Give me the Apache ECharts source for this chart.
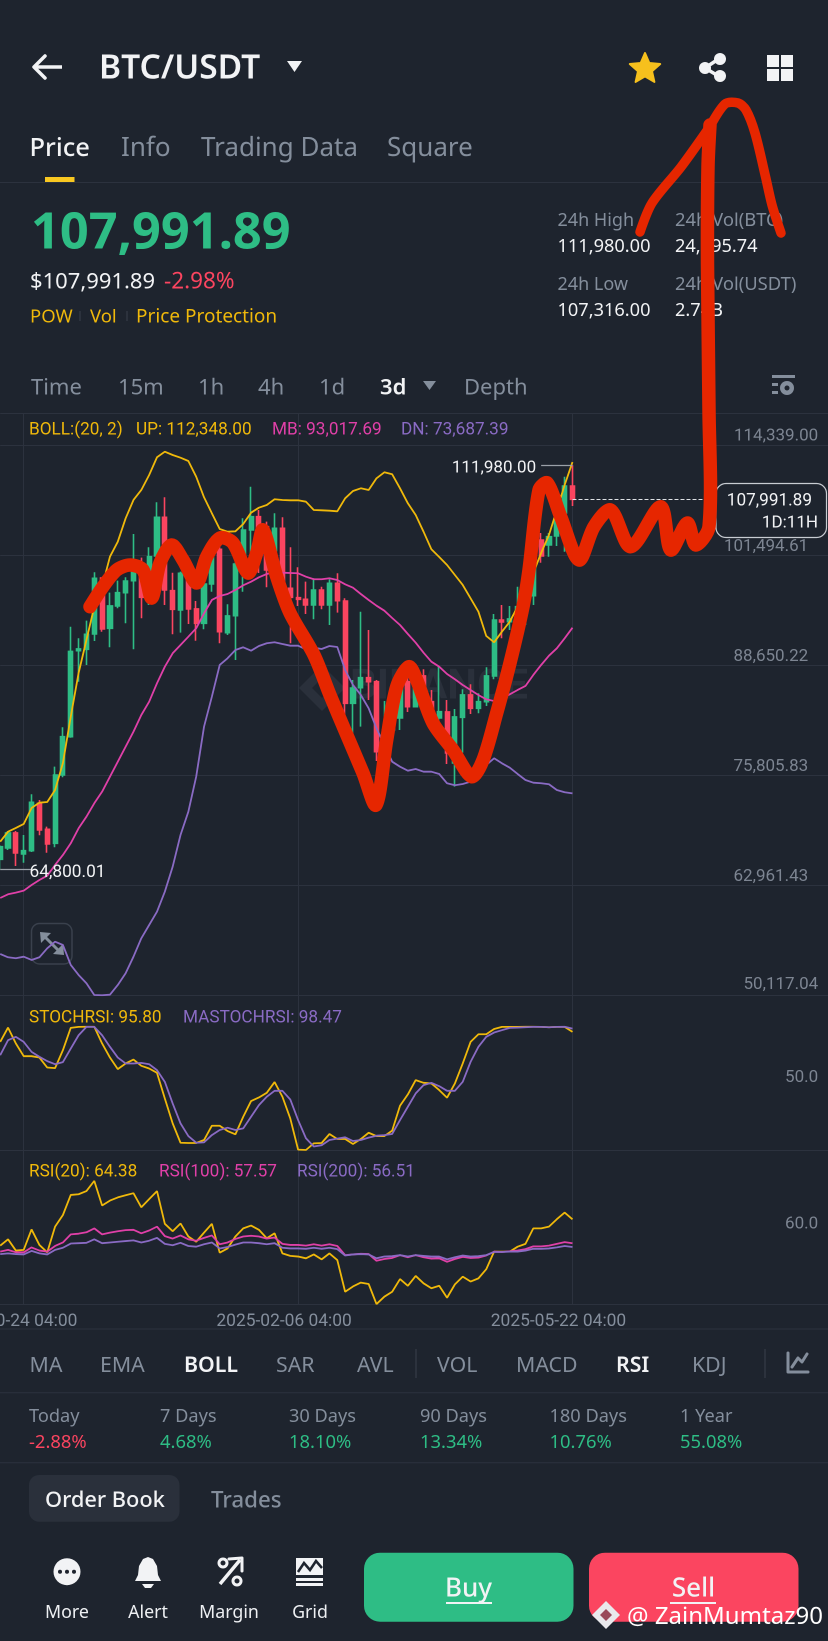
<!DOCTYPE html>
<html><head><meta charset="utf-8">
<style>html,body{margin:0;padding:0;background:#1e242e}#c{width:828px;height:1641px}</style>
<script src="https://cdn.jsdelivr.net/npm/echarts@6/dist/echarts.min.js"></script>
</head><body><div id="c"></div>
<script>
// ---------- data ----------
const candleOpen=[65991,67309,69060,66609,66994,72526,69490,67857,75828,80298,90332,90498,92284,98818,92947,95551,97103,98504,100102,97418,101386,105902,97335,95084,98585,95201,93531,98118,102168,92435,94419,100452,104420,105973,104805,102004,104616,97616,96521,96332,95668,97418,95668,98199,96134,84195,86017,87184,86716,78631,81080,82480,86716,83799,87382,84382,82480,83181,77229,82561,85165,83611,84382,87382,93917,93718,94302,94734,96753,103253,102669,103720,106404,109555];
const candleClose=[67461,69060,66725,66994,72642,69410,67776,75828,80298,90241,90533,92248,98782,92867,95551,97103,98468,99752,96566,101304,105902,97418,95165,99367,95201,93531,98118,101701,92550,94384,100452,104420,105973,101269,99752,104616,97651,96566,96332,95668,97418,95668,98199,96169,84195,85981,87184,86716,78548,81080,85165,86331,83799,86131,84382,83215,83215,78396,82597,85165,83611,84382,87382,93917,93684,94034,95470,96637,100000,101386,103639,106404,109555,107991.89];
const candleLow=[64800.01,67076,65209,65593,66843,68790,66760,67390,75561,80180,86716,88665,91466,92550,90732,95283,93531,90498,94115,95668,101304,95668,92248,92435,93450,91501,92831,97219,91197,92166,89249,97219,101502,99402,97732,101304,96484,91197,95551,94617,93998,95165,93333,94770,82247,79329,81465,84581,77463,78513,80729,81080,83181,83764,83764,81313,80729,77112,74464,78430,82947,83029,83881,86997,91782,92750,93333,93333,95668,100604,101304,102553,101887,107220];
const candleHigh=[67660,69293,69293,68826,73576,72911,69795,76797,81396,93135,91782,93836,99482,98818,97103,98504,98900,103953,101188,102401,107652,108236,99437,99554,99402,96134,99367,102472,102472,95749,101269,105785,109473,106754,105389,106368,105902,102401,100066,98387,98782,97803,98668,99367,96450,86915,94885,92750,86915,84464,85281,87265,88665,88665,88163,85748,88465,84581,83531,85830,86412,85362,88396,94617,95668,95551,97803,97885,100919,104070,104070,106987,110640,111980];
const bollUp=[68045,69212,69643,70110,71977,72596,72678,74078,77229,82632,87732,91583,95469,97803,101304,103055,105785,107921,109088,110838,112904,113558,113172,112857,112472,110640,108236,106369,104537,104222,104268,105120,106439,107022,107337,108003,107921,107886,107886,107723,106754,106719,106672,106602,108119,108971,109286,109088,110453,111154,110920,109286,107536,106170,104222,102168,101269,100335,99168,98001,96449,94886,92050,91315,92552,93719,95469,97068,99402,101736,103836,106754,109671,112348];
const bollMid=[61474,61906,62093,62326,62991,63575,64077,65325,66492,67858,69608,70962,72526,73880,75630,77381,79131,80882,82830,84383,86530,88467,90031,90999,91968,92948,94699,96251,96718,96951,97418,97966,98387,98900,99285,99484,99437,99402,99367,98970,98667,98667,98783,98585,98083,97686,96951,96251,95586,95002,94150,93333,92283,91268,90101,89051,88467,87615,86997,86331,85748,85164,84663,84464,84779,85246,85748,86215,87498,88665,89751,90614,91781,93017.69];
const bollDown=[54939,54554,54437,54624,54239,54554,55604,56375,55989,53655,52488,51520,50154,50119,50190,51321,52687,54624,56771,58323,59876,62210,65127,68826,71546,75630,81465,84966,88665,89447,90416,90731,90334,90883,91198,91315,91116,90918,90918,90498,90684,90533,90883,90766,88082,86331,85164,83612,81278,79329,77381,76797,76330,76529,76214,76214,75945,74860,74626,74778,75047,75443,76995,77777,77194,76680,75945,75245,74930,74860,74743,74078,73810,73687.39];
const stochK=[87.7,99.3,86.4,76.1,76.1,75.0,66.9,66.4,81.0,99.1,99.9,100,100,86.4,75.0,65.6,70.2,73.4,68.3,66.1,62.6,41.8,21.6,5.9,5.7,5.7,8.1,19.7,19.7,15.4,12.7,27.0,39.7,42.6,46.4,55.1,43.2,25.6,0.3,0,5.4,5.7,13.0,8.9,8.9,4.9,8.9,14.0,11.3,11.3,15.7,35.9,45.1,56.7,54.5,54.0,48.6,42.4,54.0,70.2,87.7,93.9,93.9,98.2,99.9,99.9,99.9,100,100,99.9,99.6,99.9,99.9,95.80];
const stochD=[76.9,89.1,91.8,87.7,79.6,75.6,72.1,69.6,71.3,82.3,93.1,99.9,99.9,93.1,83.7,75.0,70.2,70.2,70.7,69.6,64.8,55.3,37.8,21.6,11.3,5.9,6.2,12.1,16.2,18.1,16.2,17.5,27.0,36.4,43.2,48.0,48.0,41.0,24.3,9.5,2.8,3.9,8.1,9.2,10.3,7.3,8.1,10.0,11.6,12.1,13.0,24.3,35.1,45.9,52.6,54.5,51.8,48.0,48.0,55.3,71.5,83.7,91.8,95.3,97.2,99.1,99.3,99.6,99.9,99.9,99.6,99.9,100,98.47];
const rsi20=[56.9,58.7,55.5,55.7,61.5,57.1,55.0,62.3,65.6,71.3,71.5,72.4,75.3,68.3,69.7,70.6,71.2,71.8,67.8,70.1,72.4,63.1,61.0,63.2,59.5,58.0,60.6,63.1,54.9,56.1,59.5,61.8,62.6,61.4,59.0,60.4,54.7,54.0,53.8,53.3,54.4,53.0,54.7,52.8,43.8,45.3,46.4,46.0,40.3,42.4,43.8,47.4,45.5,48.3,46.2,44.8,45.5,42.1,45.9,48.1,46.7,47.6,50.2,55.2,55.2,55.2,56.6,57.4,61.8,61.8,62.3,64.4,66.3,64.38];
const rsi100=[55.2,55.7,55.0,55.0,56.4,55.5,55.2,56.8,57.8,60.1,60.3,60.7,61.8,60.1,60.6,61.0,61.3,61.4,60.4,61.2,62.3,59.6,58.9,59.8,58.7,58.3,59.1,59.8,57.3,57.8,58.8,59.5,59.7,59.5,58.9,59.2,57.4,57.1,57.1,56.9,57.3,56.9,57.3,56.8,54.2,54.4,54.6,54.5,52.6,53.1,53.4,54.2,53.6,54.2,53.6,53.2,53.3,52.3,53.1,53.7,53.4,53.5,54.1,55.2,55.1,55.3,55.5,55.9,56.7,56.7,56.9,57.4,57.9,57.57];
const rsi200=[54.5,54.7,54.5,54.4,55.4,54.7,54.4,55.7,56.3,57.5,57.6,57.7,58.7,57.6,57.8,58.0,58.2,58.4,57.8,58.3,59.1,57.4,57.0,57.7,56.8,56.6,57.3,57.8,56.1,56.5,57.2,57.8,57.8,57.6,57.3,57.6,56.3,56.1,56.1,56.0,56.3,56.0,56.3,55.9,54.1,54.4,54.5,54.4,53.3,53.8,53.9,54.2,53.8,54.2,54.0,53.8,53.8,53.0,53.6,54.1,53.8,53.9,54.2,55.1,55.1,55.2,55.2,55.5,56.0,56.0,56.1,56.4,56.8,56.51];
const priceTicks=[114339.00,101494.61,88650.22,75805.83,62961.43,50117.04];
const shownDates=['2024-10-24 04:00','2025-02-06 04:00','2025-05-22 04:00'];
const lastPrice=107991.89, highPrice=111980.00, lowPrice=64800.01;

// categories: one every 3 days, running on into the empty right part of the chart
const categories=[];
for(let i=0;i<107;i++){const d=new Date(Date.UTC(2024,9,15+3*i));categories.push(d.toISOString().slice(0,10)+' 04:00');}

// ---------- colours ----------
const BG='#1e242e',LINE='#2c323e',GRAY='#848e9c',WHITE='#eaecef',YEL='#f0b90b',PINK='#e040a8',PUR='#8a6bc4',GRN='#2ebd85',RED='#fb4560',SCRIB='#e62600';
const UIF='"Noto Sans",sans-serif', CHF='Roboto,sans-serif';

// ---------- helpers for the app chrome ----------
const T=(x,y,text,fill,size,weight,align,font)=>({type:'text',z:20,x,y,silent:true,style:{text,fill,font:(weight||400)+' '+size+'px '+(font||UIF),textAlign:align||'left',textVerticalAlign:'middle'}});
const R=(x,y,w,h,fill,r,z)=>({type:'rect',z:z||20,silent:true,shape:{x,y,width:w,height:h,r:r||0},style:{fill}});
const L=(x1,y1,x2,y2,stroke,w,z)=>({type:'line',z:z||20,silent:true,shape:{x1,y1,x2,y2},style:{stroke,lineWidth:w||1}});
const PG=(points,fill,z,smooth)=>({type:'polygon',z:z||20,silent:true,shape:{points,smooth:smooth||0},style:{fill}});
const PL=(pts,stroke,w,z)=>({type:'polyline',z:z||20,silent:true,shape:{points:pts},style:{stroke,lineWidth:w,fill:null,lineCap:'round',lineJoin:'round'}});
const C=(cx,cy,r,fill,z)=>({type:'circle',z:z||20,silent:true,shape:{cx,cy,r},style:{fill}});
const TRI=(x,y,w,h,fill)=>({type:'polygon',z:20,silent:true,shape:{points:[[x,y],[x+w,y],[x+w/2,y+h]]},style:{fill}});
function star(cx,cy,r){const p=[];for(let i=0;i<10;i++){const a=-Math.PI/2+i*Math.PI/5,q=i%2?r*0.46:r;p.push([cx+q*Math.cos(a),cy+q*Math.sin(a)]);}return p;}

const g=[];
// header
g.push(PL([[45,56],[34,67],[45,78]],'#f2f3f5',3.5),L(35,67,62,67,'#f2f3f5',3.5));
g.push(T(99,69,'BTC/USDT','#f2f3f5',33.5,600));
g.push(TRI(287,61,15,11,'#f2f3f5'));
g.push({type:'polygon',z:20,silent:true,shape:{points:star(645,69,16)},style:{fill:'#f6c01d',lineJoin:'round',stroke:'#f6c01d',lineWidth:2}});
g.push(L(720,58,705,68,'#f2f3f5',3.5),L(705,68,720,77,'#f2f3f5',3.5),C(720,59,6,'#f2f3f5'),C(705,68,6,'#f2f3f5'),C(720,76,6,'#f2f3f5'));
g.push(R(767,55,12,12,'#f2f3f5'),R(781,55,12,12,'#f2f3f5'),R(767,69,12,12,'#f2f3f5'),R(781,69,12,12,'#f2f3f5'));
// tabs
g.push(T(29.5,148.5,'Price','#f2f3f5',25.5,500),T(121,148.5,'Info',GRAY,26),T(201,148.5,'Trading Data',GRAY,26),T(387,148.5,'Square',GRAY,26));
g.push(R(45,177,29.5,5,'#f9c821'),L(0,182.5,828,182.5,LINE));
// price block
g.push(T(31,234,'107,991.89',GRN,50.5,700));
g.push(T(30,282,'$107,991.89','#f2f3f5',22),T(164,282,'-2.98%',RED,22.5));
g.push(T(30,317,'POW',YEL,18.5),T(90,317,'Vol',YEL,18.5),T(136,317,'Price Protection',YEL,19));
g.push(L(80,311,80,321,'#3a414d'),L(127,311,127,321,'#3a414d'));
g.push(T(557.5,221,'24h High',GRAY,18),T(675,221,'24h Vol(BTC)',GRAY,18.4),T(557.5,247,'111,980.00','#f2f3f5',18.2),T(675,247,'24,895.74','#f2f3f5',18.2));
g.push(T(557.5,285,'24h Low',GRAY,18),T(675,285,'24h Vol(USDT)',GRAY,18.4),T(557.5,311,'107,316.00','#f2f3f5',18.2),T(675,311,'2.74B','#f2f3f5',18.2));
// interval row
[['Time',31],['15m',118],['1h',198],['4h',258],['1d',319],['Depth',464]].forEach(a=>g.push(T(a[1],388,a[0],GRAY,22)));
g.push(T(380,388,'3d','#f2f3f5',22,600),TRI(423,381,13,9,GRAY));
g.push(R(772,375,23,3,GRAY),R(772,383,6,3,GRAY),R(772,391,6,3,GRAY),C(787,388,7,GRAY),C(787,388,2.5,BG));
// indicator legends
g.push(T(29,430,'BOLL:(20, 2)',YEL,17.2,400,'left',CHF),T(136,430,'UP: 112,348.00',YEL,17.2,400,'left',CHF),T(272,430,'MB: 93,017.69',PINK,17.2,400,'left',CHF),T(401,430,'DN: 73,687.39',PUR,17.2,400,'left',CHF));
g.push(T(29,1018,'STOCHRSI: 95.80',YEL,17.2,400,'left',CHF),T(183,1018,'MASTOCHRSI: 98.47',PUR,17.2,400,'left',CHF));
g.push(T(29,1172,'RSI(20): 64.38',YEL,17.2,400,'left',CHF),T(159,1172,'RSI(100): 57.57',PINK,17.2,400,'left',CHF),T(297,1172,'RSI(200): 56.51',PUR,17.2,400,'left',CHF));
// price tag
g.push({type:'rect',z:30,silent:true,shape:{x:716,y:483.5,width:110.5,height:54,r:10},style:{fill:BG,stroke:'#c8ccd2',lineWidth:1.2}});
g.push(Object.assign(T(812,501,'107,991.89','#f2f3f5',17.2,400,'right',CHF),{z:31}),Object.assign(T(818,523,'1D:11H','#f2f3f5',17,400,'right',CHF),{z:31}));
// faint watermark and expand icon, under the series
g.push({type:'text',z:1,silent:true,x:350,y:688,style:{text:'BINANCE',fill:'#2a303b',font:'700 42px Roboto,sans-serif',textVerticalAlign:'middle'}});
g.push({type:'polygon',z:1,silent:true,shape:{points:[[322,665],[345,688],[322,711],[299,688]]},style:{fill:'#2a303b'}},{type:'polygon',z:1,silent:true,shape:{points:[[322,678],[332,688],[322,698],[312,688]]},style:{fill:BG}});
g.push({type:'rect',z:1,silent:true,shape:{x:31.5,y:923.5,width:40.5,height:40.5,r:8},style:{fill:'none',stroke:'#3a414d',lineWidth:1.5}});
g.push(L(44,936,60,952,GRAY,3,1));
g.push({type:'polygon',z:1,silent:true,shape:{points:[[40,932],[51,933],[41,943]]},style:{fill:GRAY}},{type:'polygon',z:1,silent:true,shape:{points:[[64,955],[53,954],[63,944]]},style:{fill:GRAY}});
// indicator tabs
[['MA',29.5],['EMA',100],['SAR',276],['AVL',357],['VOL',437],['MACD',516],['KDJ',692]].forEach(a=>g.push(T(a[1],1366,a[0],GRAY,21.3)));
g.push(T(184,1366,'BOLL','#f2f3f5',21.3,600),T(616,1366,'RSI','#f2f3f5',21.3,600));
g.push(L(416,1349,416,1378,'#3a414d'),L(765,1349,765,1378,'#3a414d'));
g.push(PL([[788,1353],[788,1372],[808,1372]],GRAY,3),PL([[792,1367],[798,1358],[802,1362],[807,1354]],GRAY,3));
g.push(L(0,1329,828,1329,LINE),L(0,1392.7,828,1392.7,LINE),L(0,1462.7,828,1462.7,LINE));
// performance row
[['Today','-2.88%',29,RED],['7 Days','4.68%',160,GRN],['30 Days','18.10%',289,GRN],['90 Days','13.34%',420,GRN],['180 Days','10.76%',549.5,GRN],['1 Year','55.08%',680,GRN]].forEach(a=>g.push(T(a[2],1417,a[0],GRAY,18.2),T(a[2],1443,a[1],a[3],18.4)));
// order book tabs
g.push(R(29,1475,150.5,46.7,'#2a303b',10),T(45,1501,'Order Book','#f2f3f5',21.8,500),T(211,1501,'Trades',GRAY,22.3,500));
// bottom toolbar
g.push(C(67,1571.7,13.5,'#f2f3f5'),C(60,1571.7,2,BG),C(67,1571.7,2,BG),C(74,1571.7,2,BG));
g.push(PG([[135,1581],[138,1575],[139,1566],[143,1559],[148,1557],[153,1559],[157,1566],[158,1575],[161,1581]],'#f2f3f5'),PG([[142,1584],[154,1584],[151,1588],[145,1588]],'#f2f3f5'));
g.push(L(220,1584,240,1560,'#f2f3f5',3.5),PL([[229,1559],[242,1558],[242,1571]],'#f2f3f5',3),{type:'circle',z:20,silent:true,shape:{cx:223,cy:1563,r:4},style:{fill:'none',stroke:'#f2f3f5',lineWidth:3}},{type:'circle',z:20,silent:true,shape:{cx:237,cy:1581,r:4},style:{fill:'none',stroke:'#f2f3f5',lineWidth:3}});
g.push(R(296,1558,27,17,'#f2f3f5'),{type:'polyline',z:21,silent:true,shape:{points:[[298,1572],[304,1563],[310,1570],[316,1561],[322,1568]]},style:{stroke:BG,lineWidth:2.5,fill:null}},R(296,1578,27,3,'#f2f3f5'),R(296,1583,27,3,'#f2f3f5'));
[['More',67],['Alert',148],['Margin',229],['Grid',310]].forEach(a=>g.push(T(a[1],1613,a[0],'#eef0f3',17.8,400,'center')));
g.push(R(364,1552.7,209.5,69,GRN,16),R(589,1552.7,209.5,69,RED,16));
g.push(T(468.5,1589,'Buy','#f2f3f5',26,500,'center'),L(446,1603,492,1603,'#f2f3f5',2),T(693.5,1589,'Sell','#f2f3f5',26,500,'center'),L(670,1603,716,1603,'#f2f3f5',2));
// author mark
g.push({type:'polygon',z:40,silent:true,shape:{points:[[606,1601],[620,1615],[606,1629],[592,1615]]},style:{fill:'#e9e9ec'}},{type:'polygon',z:41,silent:true,shape:{points:[[606,1609],[612,1615],[606,1621],[600,1615]]},style:{fill:'#9a4a5a'}});
g.push(Object.assign(T(627,1617,'@ ZainMumtaz90','#ffffff',24,400),{z:42}));
// hand-drawn red arrow
g.push({type:'polyline',z:100,silent:true,shape:{smooth:0.3,points:[[90,606.7],[103,586.7],[116.7,570],[130,565],[143,570],[151.7,598],[160,563],[171.7,545],[183,560],[196.7,583],[206.7,556.7],[220,538],[233,543],[248,573],[256.7,553],[263,530],[276.7,576.7],[290,613],[314,655],[330,695],[346,733],[363,773],[376,805],[386.7,740],[396.7,686.7],[409,666.7],[416.7,680],[433,723],[453,750],[471.7,776.7],[483,760],[496.7,713],[510,663],[523,606.7],[529,570],[539,490],[547.3,483],[560.7,516.7],[579,560],[594,526.7],[610.7,510],[630.7,546.7],[660.7,506.7],[670.7,550],[687.3,523],[695.7,545],[709,526.7],[709,410],[707.5,264],[708,167],[710,125]]},style:{stroke:SCRIB,lineWidth:13.5,fill:null,lineCap:'round',lineJoin:'round'}});
g.push({type:'polyline',z:100,silent:true,shape:{smooth:0.3,points:[[640,232],[652,203],[681,167],[707.5,130],[725,104],[738,103],[746,110],[755,133],[765.6,177],[772,205],[781,233]]},style:{stroke:SCRIB,lineWidth:9.5,fill:null,lineCap:'round',lineJoin:'round'}});

// ---------- chart ----------
const GRID_LEFT=0.2, GRID_W=831;
const isMarked=(i)=>shownDates.includes(categories[i]);
const xBase=(gridIndex,showLabel)=>({type:'category',gridIndex,data:categories,boundaryGap:false,
  axisLine:{show:true,lineStyle:{color:LINE,width:1}},axisTick:{show:false},
  splitLine:{show:true,interval:(i)=>isMarked(i),lineStyle:{color:LINE,width:1}},
  axisLabel:showLabel?{show:true,interval:(i)=>isMarked(i),color:GRAY,fontFamily:CHF,fontSize:17.4,margin:9,padding:[0,28,0,0],hideOverlap:false}:{show:false}});
const fmt=v=>v.toLocaleString('en-US',{minimumFractionDigits:2,maximumFractionDigits:2});
const lineS=(name,data,color,xi,w)=>({type:'line',name,data,xAxisIndex:xi,yAxisIndex:xi,showSymbol:false,symbol:'none',smooth:false,silent:true,z:3,lineStyle:{color,width:w||1.8},animation:false});
const labelRich={e:{color:'#7d8592',fontSize:17,fontFamily:CHF,padding:[0,0,0,0]},b:{color:'#7d8592',fontSize:17,fontFamily:CHF,padding:[0,0,2,0]},m:{color:'#7d8592',fontSize:17,fontFamily:CHF,padding:[0,10,0,0]}};

const option={
  backgroundColor:BG,animation:false,
  grid:[
    {left:GRID_LEFT,width:GRID_W,top:413,height:582.3,outerBoundsMode:'none'},
    {left:GRID_LEFT,width:GRID_W,top:995.3,height:154.7,outerBoundsMode:'none'},
    {left:GRID_LEFT,width:GRID_W,top:1150,height:154,outerBoundsMode:'none'}
  ],
  xAxis:[xBase(0,false),xBase(1,false),xBase(2,true)],
  yAxis:[
    {type:'value',gridIndex:0,position:'right',min:50117.04,max:118073,
      axisLine:{show:false},axisTick:{show:false,customValues:[...priceTicks,118073]},
      splitLine:{show:true,lineStyle:{color:LINE,width:1}},
      axisLabel:{inside:true,customValues:priceTicks,margin:13,align:'right',verticalAlign:'bottom',
        formatter:v=>(v===priceTicks[0]?'{e|':v===priceTicks[priceTicks.length-1]?'{b|':'{m|')+fmt(v)+'}',rich:labelRich}},
    {type:'value',gridIndex:1,position:'right',min:0,max:125.5,axisLine:{show:false},axisTick:{show:false},splitLine:{show:false},
      axisLabel:{inside:true,customValues:[50],margin:13,align:'right',verticalAlign:'bottom',color:'#7d8592',fontSize:17,fontFamily:CHF,padding:[0,0,2,0],formatter:v=>v.toFixed(1)}},
    {type:'value',gridIndex:2,position:'right',min:40.32,max:84.07,axisLine:{show:false},axisTick:{show:false},splitLine:{show:false},
      axisLabel:{inside:true,customValues:[60],margin:13,align:'right',verticalAlign:'bottom',color:'#7d8592',fontSize:17,fontFamily:CHF,padding:[0,0,2,0],formatter:v=>v.toFixed(1)}}
  ],
  series:[
    {type:'candlestick',name:'BTC/USDT',xAxisIndex:0,yAxisIndex:0,barWidth:4.6,silent:true,z:2,
      data:candleOpen.map((o,i)=>[o,candleClose[i],candleLow[i],candleHigh[i]]),
      itemStyle:{color:GRN,color0:RED,borderColor:GRN,borderColor0:RED,borderWidth:1.6},
      markLine:{silent:true,symbol:'none',animation:false,z:4,data:[
        [{coord:[categories[73],lastPrice],lineStyle:{color:'#dfe2e6',type:'dashed',width:1},label:{show:false}},{coord:[categories[91],lastPrice]}],
        [{coord:[categories[73],highPrice],lineStyle:{color:'#9aa0a8',type:'solid',width:1.2},label:{show:true,position:'end',distance:6,offset:[1,3],formatter:fmt(highPrice),color:'#f2f3f5',fontFamily:CHF,fontSize:17}},{coord:[categories[69],highPrice]}],
        [{coord:[categories[0],lowPrice],lineStyle:{color:'#9aa0a8',type:'solid',width:1.2},label:{show:true,position:'end',distance:0,offset:[-2,3],formatter:fmt(lowPrice),color:'#f2f3f5',fontFamily:CHF,fontSize:17.3}},{coord:[categories[4],lowPrice]}]
      ]}},
    lineS('UP',bollUp,YEL,0),lineS('MB',bollMid,PINK,0),lineS('DN',bollDown,PUR,0),
    lineS('STOCHRSI',stochK,YEL,1),lineS('MASTOCHRSI',stochD,PUR,1),
    lineS('RSI(20)',rsi20,YEL,2),lineS('RSI(100)',rsi100,PINK,2),lineS('RSI(200)',rsi200,PUR,2)
  ],
  graphic:{elements:g}
};
const chart=echarts.init(document.getElementById('c'),null,{renderer:'canvas',width:828,height:1641,devicePixelRatio:2});
chart.setOption(option);
</script></body></html>
